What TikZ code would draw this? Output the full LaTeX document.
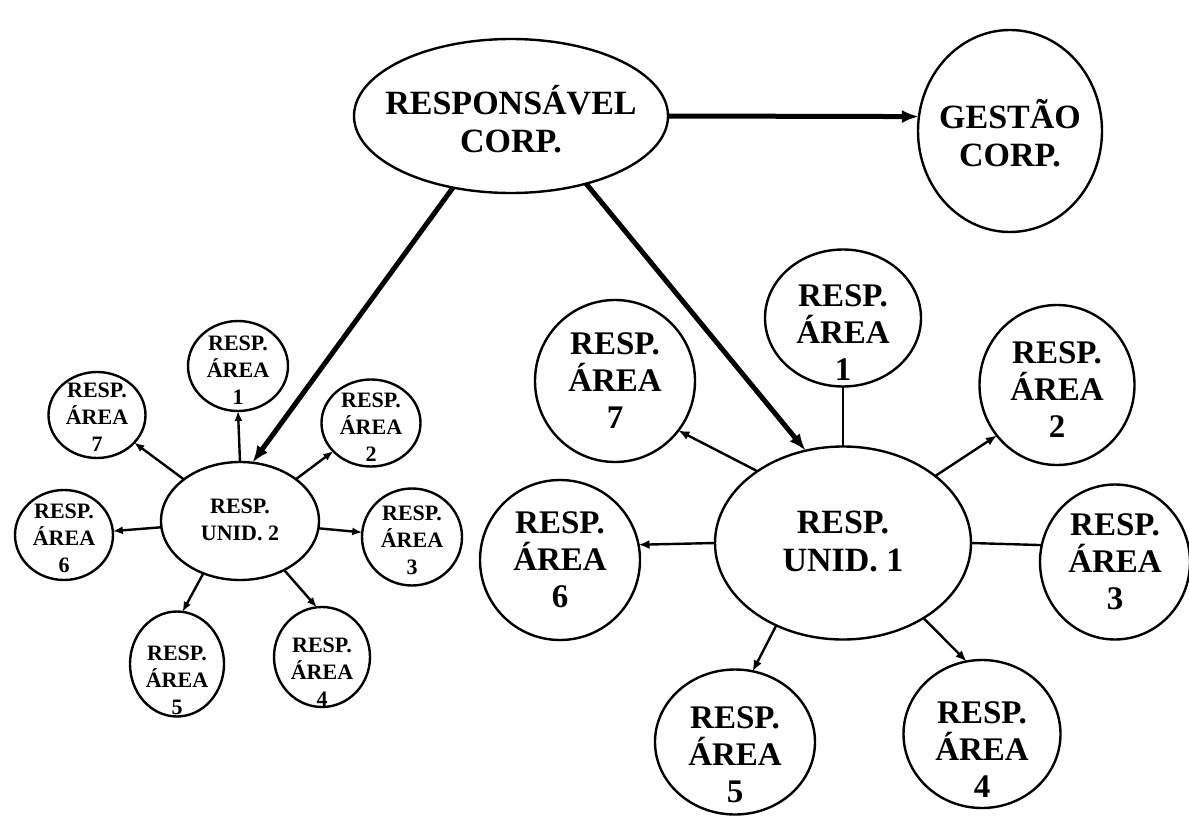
\documentclass[tikz,border=0pt]{standalone}
\usepackage{fontspec}
\setmainfont{Liberation Serif}
\usetikzlibrary{shapes.geometric,arrows.meta}

\tikzset{
  blob/.style={draw, ellipse, line width=2.4pt, inner sep=0pt, outer sep=0pt},
  toptext/.style={font=\bfseries\fontsize{34}{38}\selectfont, align=center, inner sep=0pt},
  bigtext/.style={font=\bfseries\fontsize{33}{37}\selectfont, align=center, inner sep=0pt},
  smalltext/.style={font=\bfseries\fontsize{22}{27}\selectfont, align=center, inner sep=0pt},
  feed/.style={line width=5pt, -{Latex[length=17pt,width=13pt]}},
  link/.style={line width=2.4pt, -{Latex[length=11pt,width=9pt]}},
  smalllink/.style={line width=2.4pt, -{Latex[length=10pt,width=8pt]}},
  plain/.style={line width=2.4pt},
}

% #1 name, #2 x, #3 y, #4 width, #5 height, #6 text y, #7 text style, #8 text
\newcommand\blob[8]{%
  \node[blob, minimum width=#4pt, minimum height=#5pt] (#1) at (#2,#3) {};
  \node[#7] (#1t) at (#2,#6) {#8};%
}

\begin{document}
\begin{tikzpicture}[x=1pt,y=-1pt]
  \path[use as bounding box, fill=white] (0,0) rectangle (1189,816);

  % top level
  \blob{corp}{511}{116}{314}{154}{119}{toptext}{RESPONSÁVEL\\CORP.}
  \blob{gest}{1010}{131}{184}{202}{133}{toptext}{GESTÃO\\CORP.}

  % unit 1 and its areas
  \blob{u1}{843}{543}{256}{193}{541}{toptext}{RESP.\\UNID. 1}
  \blob{r1}{843}{318}{156}{137}{333}{bigtext}{RESP.\\ÁREA\\1}
  \blob{r2}{1057}{385}{155}{160}{390}{bigtext}{RESP.\\ÁREA\\2}
  \blob{r3}{1115}{562}{150}{155}{562}{bigtext}{RESP.\\ÁREA\\3}
  \blob{r4}{982}{734}{157}{148}{750}{bigtext}{RESP.\\ÁREA\\4}
  \blob{r5}{735}{742}{160}{145}{755}{bigtext}{RESP.\\ÁREA\\5}
  \blob{r6}{560}{560}{160}{160}{560}{bigtext}{RESP.\\ÁREA\\6}
  \blob{r7}{615}{381}{160}{162}{381}{bigtext}{RESP.\\ÁREA\\7}

  % unit 2 and its areas
  \blob{u2}{240}{521}{158}{118}{520}{smalltext}{RESP.\\UNID. 2}
  \blob{l1}{238}{366}{100}{90}{370}{smalltext}{RESP.\\ÁREA\\1}
  \blob{l2}{371}{423}{99}{87}{427}{smalltext}{RESP.\\ÁREA\\2}
  \blob{l3}{412}{537}{100}{97}{540}{smalltext}{RESP.\\ÁREA\\3}
  \blob{l4}{322}{657}{96}{100}{672}{smalltext}{RESP.\\ÁREA\\4}
  \blob{l5}{177}{664}{94}{105}{680}{smalltext}{RESP.\\ÁREA\\5}
  \blob{l6}{64}{535}{98}{90}{538}{smalltext}{RESP.\\ÁREA\\6}
  \blob{l7}{97}{415}{97}{86}{417}{smalltext}{RESP.\\ÁREA\\7}

  % corporate links
  \draw[feed] (corp.east) -- (gest.171);
  \draw[feed] (corp.231) -- (u2.78);
  \draw[feed] (corp.318) -- (u1.112);

  % unit 1 links
  \draw[plain] (u1.north) -- (r1.south);
  \draw[link] (u1.36) -- (r2.220);
  \draw[plain] (u1.east) -- (r3.167);
  \draw[link] (u1.317) -- (r4.102);
  \draw[link] (u1.231) -- (r5.76);
  \draw[link] (u1.west) -- (r6.11);
  \draw[link] (u1.140) -- (r7.322);

  % unit 2 links
  \draw[smalllink] (u2.north) -- (l1.south);
  \draw[smalllink] (u2) -- (l2);
  \draw[smalllink] (u2) -- (l3);
  \draw[smalllink] (u2.312) -- (l4.96);
  \draw[smalllink] (u2.235) -- (l5.84);
  \draw[smalllink] (u2) -- (l6);
  \draw[smalllink] (u2) -- (l7);
\end{tikzpicture}
\end{document}
